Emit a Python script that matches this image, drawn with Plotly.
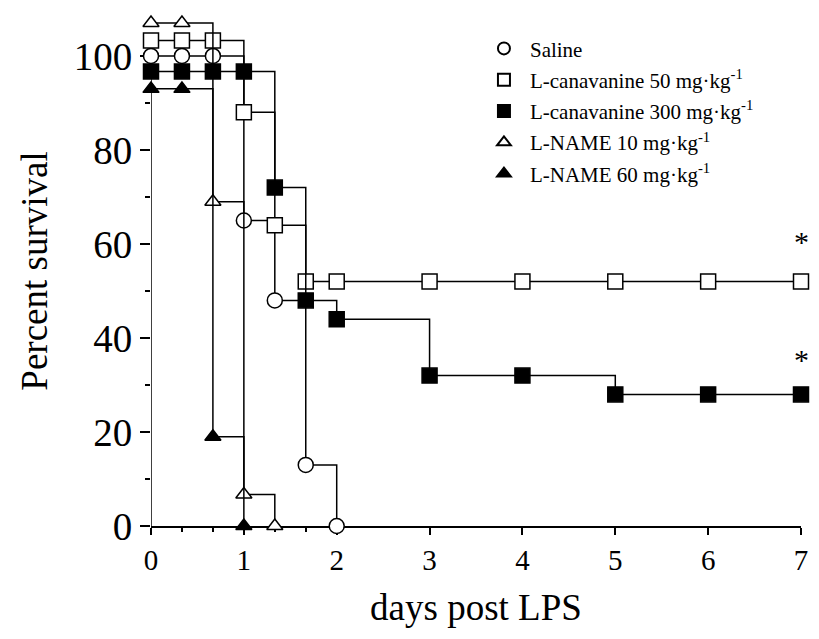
import plotly.graph_objects as go

# ---- data (percent survival) ----
days = [0, 1/3, 2/3, 1, 4/3, 5/3, 2, 3, 4, 5, 6, 7]

saline = [100, 100, 100, 65, 48, 13, 0]
can50 = [100, 100, 100, 88, 64, 52, 52, 52, 52, 52, 52, 52]
can300 = [100, 100, 100, 100, 72, 48, 44, 32, 32, 28, 28, 28]
lname10 = [100, 100, 69, 6.7, 0]
lname60 = [100, 100, 19, 0]

series_names = [
    "Saline",
    "L-canavanine 50 mg·kg<sup>-1</sup>",
    "L-canavanine 300 mg·kg<sup>-1</sup>",
    "L-NAME 10 mg·kg<sup>-1</sup>",
    "L-NAME 60 mg·kg<sup>-1</sup>",
]
series_values = [saline, can50, can300, lname10, lname60]

x_ticks = [0, 1, 2, 3, 4, 5, 6, 7]
x_minor = [1/3, 2/3, 4/3, 5/3]
y_ticks = [0, 20, 40, 60, 80, 100]
y_minor = [10, 30, 50, 70, 90]

sig_x = [7, 7]
sig_y = [60.5, 35.5]

# ---- styles ----
# vertical display offset applied to the 100 % points so overlapping symbols stay visible
offsets = [0, 3.3, -3.3, 7, -7]
symbols = ["circle", "square", "square", "triangle-up", "triangle-up"]
fills = ["white", "white", "black", "white", "black"]
sizes = [15, 15, 15, 14, 14]

FONT = "Liberation Serif, Times New Roman, serif"

fig = go.Figure()
for name, vals, off, sym, fc, sz in zip(series_names, series_values, offsets, symbols, fills, sizes):
    n = len(vals)
    yy = [v + off if v == 100 else v for v in vals]
    fig.add_trace(go.Scatter(
        x=days[:n], y=yy, name=name, mode="lines+markers",
        line=dict(shape="hv", color="black", width=1.5),
        marker=dict(symbol=sym, size=sz, color=fc, line=dict(color="black", width=1.5)),
        cliponaxis=False, showlegend=False, legendgroup=name,
    ))

# legend entries (symbol only, as in the reference)
for name, sym, fc in zip(series_names, symbols, fills):
    fig.add_trace(go.Scatter(
        x=[None], y=[None], name=name, mode="markers",
        marker=dict(symbol=sym, size=13, color=fc, line=dict(color="black", width=1.5)),
        showlegend=True, legendgroup=name,
    ))

for sx, sy in zip(sig_x, sig_y):
    fig.add_annotation(x=sx, y=sy, text="*", showarrow=False,
                       font=dict(family=FONT, size=30, color="black"),
                       xanchor="center", yanchor="middle")

fig.add_shape(type="line", xref="x", yref="y", x0=0, x1=0, y0=0, y1=100,
              line=dict(color="black", width=1.5), layer="below")

# page has an 8 px body margin, so the figure is sized to fill the rest of the window
fig.update_layout(
    width=811, height=631,
    margin=dict(l=143, r=18, t=8, b=113, autoexpand=False),
    paper_bgcolor="white", plot_bgcolor="white",
    font=dict(family=FONT, color="black"),
    showlegend=True,
    legend=dict(x=0.503, y=0.976, xanchor="left", yanchor="top",
                font=dict(family=FONT, size=21, color="black"),
                bgcolor="rgba(0,0,0,0)", tracegroupgap=1, itemwidth=42,
                itemsizing="constant"),
    xaxis=dict(
        range=[0, 7], showgrid=False, zeroline=False, automargin=False,
        showline=True, linecolor="black", linewidth=1.5, layer="below traces",
        tickmode="array", tickvals=x_ticks, ticktext=[str(t) for t in x_ticks],
        ticks="outside", ticklen=7, tickwidth=1.5, tickcolor="black",
        tickfont=dict(family=FONT, size=29, color="black"),
        minor=dict(tickmode="array", tickvals=x_minor, ticks="outside", ticklen=4,
                   tickwidth=1.5, tickcolor="black", showgrid=False),
        title=dict(text="days post LPS", font=dict(family=FONT, size=37, color="black"), standoff=20),
    ),
    yaxis=dict(
        range=[0, 108.5], showgrid=False, zeroline=False, showline=False, automargin=False,
        layer="below traces",
        tickmode="array", tickvals=y_ticks, ticktext=[str(t) for t in y_ticks],
        ticks="outside", ticklen=10, tickwidth=1.5, tickcolor="black",
        tickfont=dict(family=FONT, size=39, color="black"),
        minor=dict(tickmode="array", tickvals=y_minor, ticks="outside", ticklen=5,
                   tickwidth=1.5, tickcolor="black", showgrid=False),
        title=dict(text="Percent survival", font=dict(family=FONT, size=37, color="black"), standoff=14),
    ),
)

fig.write_html("out.html")
